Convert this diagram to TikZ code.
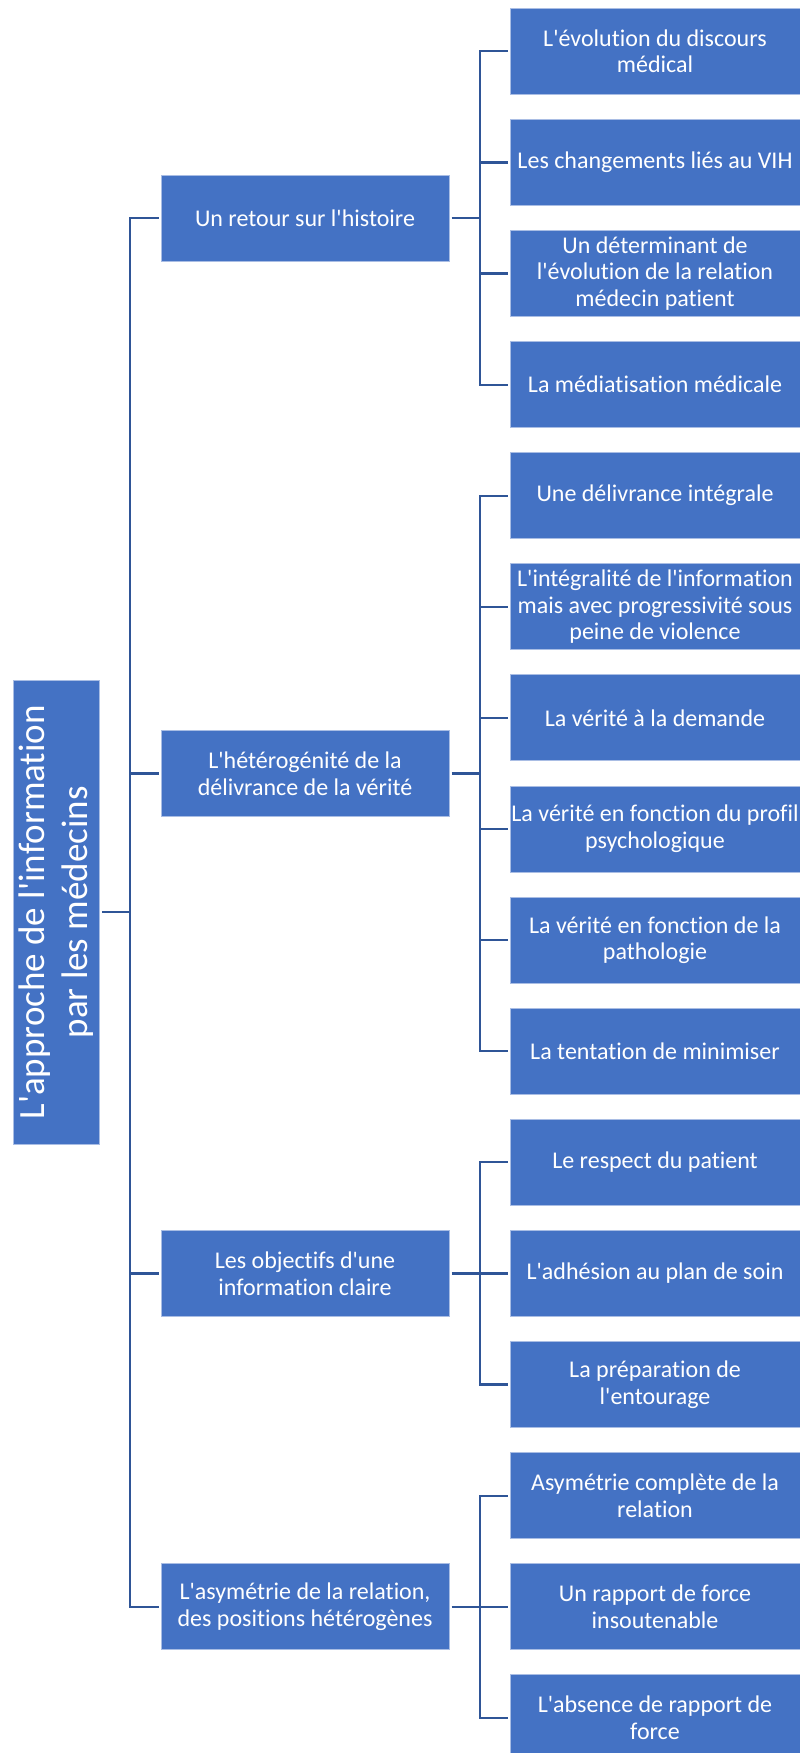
\documentclass[tikz,border=0pt]{standalone}
\usepackage{fontspec}
\setmainfont{Carlito}[Ligatures={TeXOff,NoCommon}]
\definecolor{boxblue}{HTML}{4472C4}
\definecolor{linkblue}{HTML}{2F5597}
\definecolor{edgeblue}{HTML}{A9BDE4}

\begin{document}
\begin{tikzpicture}[x=1pt, y=-1pt,
    topic/.style={fill=boxblue, draw=edgeblue, line width=1pt, text=white,
        align=center, inner sep=0pt, minimum width=288pt, minimum height=86pt,
        font=\fontsize{24}{26.7}\selectfont},
    leaf/.style={topic, minimum width=290pt},
    link/.style={linkblue, line width=2.2pt}]
    \useasboundingbox (0,0) rectangle (800,1753);

    % 1. Define Coordinates
    \coordinate (trunkA) at (130, 0);   % Left trunk
    \coordinate (trunkB) at (480, 0);   % Right trunk

    % 2. Boxes
    \node[topic, rotate=90, minimum width=464pt, font=\fontsize{37}{43}\selectfont]
        (root) at (56.3, 912.3) {L'approche de l'information\\par les médecins};

    \node[topic] (t1) at (305, 218.0)  {Un retour sur l'histoire};
    \node[topic] (t2) at (305, 773.5)  {L'hétérogénité de la\\délivrance de la vérité};
    \node[topic] (t3) at (305, 1273.4) {Les objectifs d'une\\information claire};
    \node[topic] (t4) at (305, 1606.7) {L'asymétrie de la relation,\\des positions hétérogènes};

    \node[leaf] (l0)  at (655, 51.3)   {L'évolution du discours\\médical};
    \node[leaf] (l1)  at (655, 162.4)  {Les changements liés au VIH};
    \node[leaf] (l2)  at (655, 273.5)  {Un déterminant de\\l'évolution de la relation\\médecin patient};
    \node[leaf] (l3)  at (655, 384.6)  {La médiatisation médicale};
    \node[leaf] (l4)  at (655, 495.7)  {Une délivrance intégrale};
    \node[leaf] (l5)  at (655, 606.8)  {L'intégralité de l'information\\mais avec progressivité sous\\peine de violence};
    \node[leaf] (l6)  at (655, 717.9)  {La vérité à la demande};
    \node[leaf] (l7)  at (655, 829.0)  {La vérité en fonction du profil\\psychologique};
    \node[leaf] (l8)  at (655, 940.1)  {La vérité en fonction de la\\pathologie};
    \node[leaf] (l9)  at (655, 1051.2) {La tentation de minimiser};
    \node[leaf] (l10) at (655, 1162.3) {Le respect du patient};
    \node[leaf] (l11) at (655, 1273.4) {L'adhésion au plan de soin};
    \node[leaf] (l12) at (655, 1384.5) {La préparation de\\l'entourage};
    \node[leaf] (l13) at (655, 1495.6) {Asymétrie complète de la\\relation};
    \node[leaf] (l14) at (655, 1606.7) {Un rapport de force\\insoutenable};
    \node[leaf] (l15) at (655, 1717.8) {L'absence de rapport de\\force};

    % 3. Draw Connectors
    \begin{scope}[link]
        % root to the four topics (rotated node: south is its right side)
        \draw[shorten <=2pt] (root.south) -- (trunkA |- root.south);
        \draw[shorten <=2pt, shorten >=2pt] (t1.west) -- (trunkA |- t1) -- (trunkA |- t4) -- (t4.west);
        \foreach \t in {t2,t3}
            \draw[shorten >=2pt] (trunkA |- \t) -- (\t.west);

        % topic 1
        \draw[shorten <=2pt] (t1.east) -- (trunkB |- t1);
        \draw[shorten <=2pt, shorten >=2pt] (l0.west) -- (trunkB |- l0) -- (trunkB |- l3) -- (l3.west);
        \foreach \l in {l1,l2}
            \draw[shorten >=2pt] (trunkB |- \l) -- (\l.west);

        % topic 2
        \draw[shorten <=2pt] (t2.east) -- (trunkB |- t2);
        \draw[shorten <=2pt, shorten >=2pt] (l4.west) -- (trunkB |- l4) -- (trunkB |- l9) -- (l9.west);
        \foreach \l in {l5,l6,l7,l8}
            \draw[shorten >=2pt] (trunkB |- \l) -- (\l.west);

        % topic 3
        \draw[shorten <=2pt] (t3.east) -- (trunkB |- t3);
        \draw[shorten <=2pt, shorten >=2pt] (l10.west) -- (trunkB |- l10) -- (trunkB |- l12) -- (l12.west);
        \draw[shorten >=2pt] (trunkB |- l11) -- (l11.west);

        % topic 4
        \draw[shorten <=2pt] (t4.east) -- (trunkB |- t4);
        \draw[shorten <=2pt, shorten >=2pt] (l13.west) -- (trunkB |- l13) -- (trunkB |- l15) -- (l15.west);
        \draw[shorten >=2pt] (trunkB |- l14) -- (l14.west);
    \end{scope}
\end{tikzpicture}
\end{document}
